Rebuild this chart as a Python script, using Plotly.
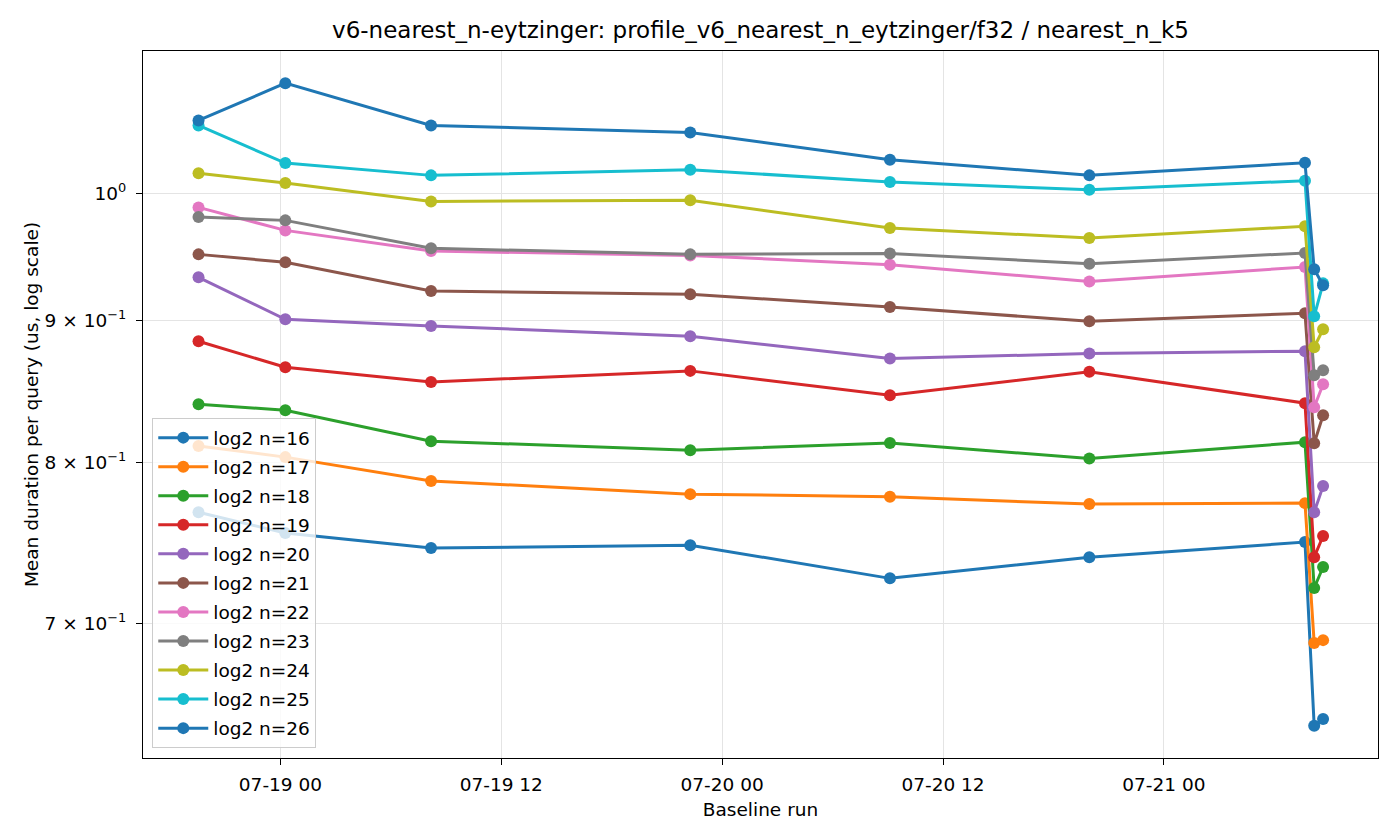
import plotly.graph_objects as go

# Baseline run timestamps
times = ["2025-07-18 19:33", "2025-07-19 00:16", "2025-07-19 08:11", "2025-07-19 22:16",
         "2025-07-20 09:07", "2025-07-20 19:57", "2025-07-21 07:40", "2025-07-21 08:10",
         "2025-07-21 08:39"]

# Mean duration per query (us) per log2 n
n16 = [0.7678, 0.7546, 0.7453, 0.7471, 0.7268, 0.7396, 0.7490, 0.6431, 0.6468]
n17 = [0.8112, 0.8037, 0.7880, 0.7794, 0.7777, 0.7730, 0.7736, 0.6889, 0.6905]
n18 = [0.8398, 0.8356, 0.8144, 0.8083, 0.8132, 0.8028, 0.8137, 0.7210, 0.7337]
n19 = [0.8848, 0.8659, 0.8554, 0.8633, 0.8460, 0.8626, 0.8405, 0.7397, 0.7528]
n20 = [0.9330, 0.9010, 0.8961, 0.8884, 0.8722, 0.8758, 0.8775, 0.7678, 0.7846]
n21 = [0.9509, 0.9447, 0.9224, 0.9199, 0.9103, 0.8996, 0.9056, 0.8130, 0.8321]
n22 = [0.9887, 0.9700, 0.9535, 0.9501, 0.9428, 0.9297, 0.9410, 0.8377, 0.8538]
n23 = [0.9808, 0.9781, 0.9557, 0.9509, 0.9515, 0.9436, 0.9520, 0.8602, 0.8637]
n24 = [1.0170, 1.0088, 0.9936, 0.9945, 0.9719, 0.9639, 0.9733, 0.8804, 0.8936]
n25 = [1.0582, 1.0257, 1.0153, 1.0201, 1.0097, 1.0033, 1.0108, 0.9033, 0.9283]
n26 = [1.0626, 1.0960, 1.0582, 1.0521, 1.0286, 1.0153, 1.0260, 0.9392, 0.9268]

series_names = ["log2 n=16", "log2 n=17", "log2 n=18", "log2 n=19", "log2 n=20", "log2 n=21",
                "log2 n=22", "log2 n=23", "log2 n=24", "log2 n=25", "log2 n=26"]
series_values = [n16, n17, n18, n19, n20, n21, n22, n23, n24, n25, n26]

colors = ["#1f77b4", "#ff7f0e", "#2ca02c", "#d62728", "#9467bd", "#8c564b",
          "#e377c2", "#7f7f7f", "#bcbd22", "#17becf", "#1f77b4"]

ytick_vals = [0.7, 0.8, 0.9, 1.0]
ytick_text = ["7 × 10<sup>−1</sup>", "8 × 10<sup>−1</sup>", "9 × 10<sup>−1</sup>", "10<sup>0</sup>"]

FONT = "DejaVu Sans"
FS = 18.5

fig = go.Figure()
for i, (name, vals) in enumerate(zip(series_names, series_values)):
    fig.add_trace(go.Scatter(
        x=times, y=vals, name=name, mode="lines+markers",
        line=dict(color=colors[i], width=3),
        marker=dict(color=colors[i], size=12),
        legendgroup=name,
    ))

fig.update_layout(
    width=1400, height=840,
    margin=dict(l=143, r=22, t=51, b=82),
    paper_bgcolor="white", plot_bgcolor="white",
    font=dict(family=FONT, size=FS, color="black"),
    title=dict(text="v6-nearest_n-eytzinger: profile_v6_nearest_n_eytzinger/f32 / nearest_n_k5",
               x=0.5, xanchor="center", xref="paper", y=0.964, yref="container", yanchor="middle",
               font=dict(family=FONT, size=23, color="black")),
    showlegend=True,
    legend=dict(x=0.0075, y=0.014, xanchor="left", yanchor="bottom",
                bgcolor="rgba(255,255,255,0.8)", bordercolor="#cccccc", borderwidth=1,
                font=dict(family=FONT, size=FS, color="black"),
                tracegroupgap=2, traceorder="grouped", itemwidth=50),
)

fig.update_xaxes(
    type="date",
    range=["2025-07-18 16:32", "2025-07-21 11:38"],
    tick0="2025-07-19 00:00", dtick=43200000, tickformat="%m-%d %H",
    showgrid=True, gridcolor="#e4e4e4", gridwidth=1,
    showline=True, linecolor="black", linewidth=1.1, mirror=True,
    ticks="outside", ticklen=6, tickcolor="black", tickwidth=1.1,
    ticklabelstandoff=4,
    tickfont=dict(family=FONT, size=FS, color="black"),
    zeroline=False,
    title=dict(text="Baseline run", standoff=8, font=dict(family=FONT, size=FS, color="black")),
)

fig.update_yaxes(
    type="log",
    range=[-0.2033, 0.0514],
    tickmode="array", tickvals=ytick_vals, ticktext=ytick_text,
    showgrid=True, gridcolor="#e4e4e4", gridwidth=1,
    showline=True, linecolor="black", linewidth=1.1, mirror=True,
    ticks="outside", ticklen=6, tickcolor="black", tickwidth=1.1,
    ticklabelstandoff=6,
    tickfont=dict(family=FONT, size=FS, color="black"),
    zeroline=False,
    title=dict(text="Mean duration per query (us, log scale)", standoff=1,
               font=dict(family=FONT, size=FS, color="black")),
)

fig.write_html("out.html")
